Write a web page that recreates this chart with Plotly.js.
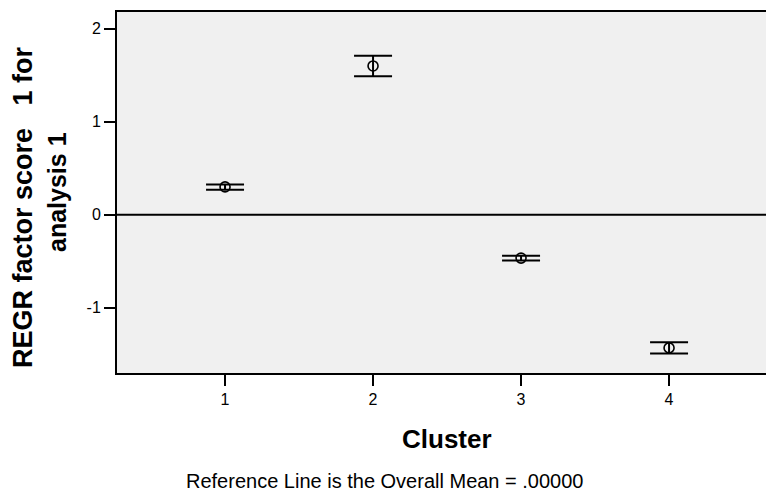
<!DOCTYPE html>
<html>
<head>
<meta charset="utf-8">
<script src="https://cdn.plot.ly/plotly-3.0.1.min.js"></script>
<style>html,body{margin:0;padding:0;background:#fff;}#chart{width:766px;height:494px;}</style>
</head>
<body>
<div id="chart"></div>
<script>
// Data
const clusters = [1, 2, 3, 4];
const means = [0.30, 1.60, -0.465, -1.43];
const upper = [0.325, 1.71, -0.44, -1.37];
const lower = [0.27, 1.49, -0.49, -1.49];
const yTicks = [-1, 0, 1, 2];
const xTicks = [1, 2, 3, 4];
const refMean = 0;

const plus = upper.map((u, i) => u - means[i]);
const minus = lower.map((l, i) => means[i] - l);

const trace = {
  x: clusters,
  y: means,
  type: 'scatter',
  mode: 'markers',
  marker: {symbol: 'circle-open', size: 10, color: '#000', line: {width: 1.6, color: '#000'}},
  error_y: {type: 'data', symmetric: false, array: plus, arrayminus: minus,
            color: '#000', thickness: 2, width: 19},
  showlegend: false,
  hoverinfo: 'skip'
};

const H = 361; // plot height in px
const W = 649; // plot width in px
const layout = {
  width: 766, height: 494,
  margin: {l: 117, r: 0, t: 12, b: 121},
  paper_bgcolor: '#ffffff',
  plot_bgcolor: '#f0f0f0',
  font: {family: 'Liberation Sans, Arial, sans-serif', color: '#000', size: 16},
  xaxis: {
    range: [0.27, 4.655], tickvals: xTicks, ticktext: xTicks.map(String),
    showgrid: false, zeroline: false, showline: true, linecolor: '#000', linewidth: 2,
    mirror: true, ticks: 'outside', ticklen: 11, tickwidth: 2, tickcolor: '#000',
    tickfont: {size: 16}, fixedrange: true
  },
  yaxis: {
    range: [-1.70, 2.18], tickvals: yTicks, ticktext: yTicks.map(String),
    showgrid: false, zeroline: false, showline: true, linecolor: '#000', linewidth: 2,
    ticks: 'outside', ticklen: 11, tickwidth: 2, tickcolor: '#000',
    tickfont: {size: 16}, fixedrange: true
  },
  shapes: [{
    type: 'line', xref: 'paper', x0: 0, x1: 1, yref: 'y', y0: refMean, y1: refMean,
    line: {color: '#000', width: 2}, layer: 'below'
  }],
  annotations: [
    {text: '<b>Cluster</b>', xref: 'paper', yref: 'paper', x: (447 - 117) / W, y: (373 - 439) / H,
     showarrow: false, font: {size: 26}, xanchor: 'center', yanchor: 'middle'},
    {text: 'Reference Line is the Overall Mean = .00000', xref: 'paper', yref: 'paper',
     x: (384 - 117) / W, y: (373 - 481) / H, showarrow: false, font: {size: 20},
     xanchor: 'center', yanchor: 'middle'},
    {text: '<b>REGR factor score   1 for</b>', xref: 'paper', yref: 'paper',
     x: (23 - 117) / W, y: (373 - 207) / H, showarrow: false, textangle: -90, font: {size: 27},
     xanchor: 'center', yanchor: 'middle'},
    {text: '<b>analysis 1</b>', xref: 'paper', yref: 'paper',
     x: (57 - 117) / W, y: (373 - 192) / H, showarrow: false, textangle: -90, font: {size: 25},
     xanchor: 'center', yanchor: 'middle'}
  ]
};

Plotly.newPlot('chart', [trace], layout, {displayModeBar: false, staticPlot: true});
</script>
</body>
</html>
